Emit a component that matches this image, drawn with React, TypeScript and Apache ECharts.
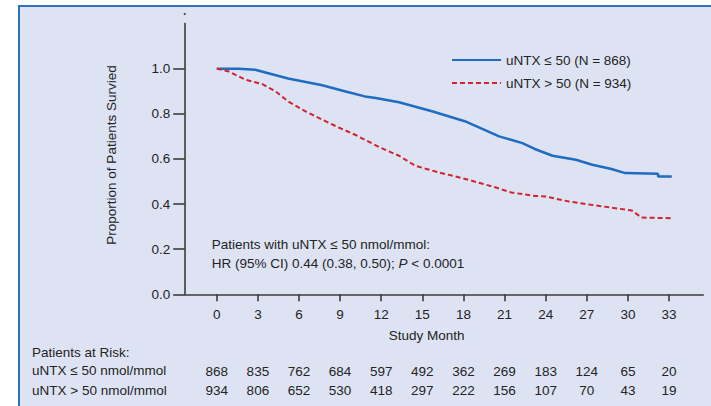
import React, { useEffect, useRef } from "react";
import * as echarts from "echarts";

// Kaplan-Meier estimates (month, proportion surviving)
const lowMonths = [0, 1.6, 2.8, 5.2, 7.7, 9.4, 10.8, 11.6, 13.3, 15.7, 18.1, 20.6, 22.3, 23.2, 24.5, 26.2, 27.4, 28.8, 29.8, 32.2, 32.2, 33.2];
const lowSurvival = [1.0, 1.0, 0.995, 0.956, 0.926, 0.899, 0.877, 0.87, 0.851, 0.811, 0.767, 0.7, 0.67, 0.644, 0.614, 0.596, 0.574, 0.555, 0.537, 0.534, 0.522, 0.522];

const highMonths = [0, 0.85, 2.1, 3.3, 4.3, 5.2, 6.5, 7.7, 8.9, 10.1, 10.8, 12.0, 13.3, 14.5, 16.2, 17.9, 20.1, 21.5, 23.2, 24.0, 25.7, 27.4, 28.8, 30.3, 31.0, 33.2];
const highSurvival = [1.0, 0.988, 0.951, 0.932, 0.899, 0.855, 0.81, 0.774, 0.739, 0.707, 0.685, 0.648, 0.614, 0.569, 0.54, 0.515, 0.478, 0.451, 0.436, 0.433, 0.411, 0.396, 0.384, 0.371, 0.34, 0.337];

// Axis ticks
const monthTicks = [0, 3, 6, 9, 12, 15, 18, 21, 24, 27, 30, 33];
const survivalTicks = [0, 0.2, 0.4, 0.6, 0.8, 1.0];

// Patients at risk at each month tick
const lowAtRisk = [868, 835, 762, 684, 597, 492, 362, 269, 183, 124, 65, 20];
const highAtRisk = [934, 806, 652, 530, 418, 297, 222, 156, 107, 70, 43, 19];

const lowName = "uNTX \u2264 50 (N = 868)";
const highName = "uNTX > 50 (N = 934)";

const FONT = "'Liberation Sans', Arial, sans-serif";
const FS = 13.5;
const TEXT = "#242424";
const AXIS = "#3c3c3c";
const BLUE = "#1f6cc2";
const RED = "#d4222f";

export default function App() {
  const ref = useRef<HTMLDivElement>(null);

  useEffect(() => {
    if (!ref.current) return;
    const chart = echarts.init(ref.current, undefined, { renderer: "svg" });

    const riskAxis = (values: number[], offset: number) => ({
      type: "value",
      gridIndex: 0,
      position: "bottom",
      offset,
      min: -2.34,
      max: 35.5,
      axisLine: { show: false, onZero: false },
      axisTick: { show: false },
      splitLine: { show: false },
      axisLabel: {
        customValues: monthTicks,
        margin: 13,
        color: TEXT,
        fontFamily: FONT,
        fontSize: FS,
        formatter: (v: number) => String(values[monthTicks.indexOf(Math.round(v))] ?? ""),
      },
    });

    chart.setOption({
      animation: false,
      backgroundColor: "transparent",
      textStyle: { fontFamily: FONT },
      grid: { left: 184.7, right: 7.7, top: 23.5, bottom: 111.7, containLabel: false },
      legend: {
        orient: "vertical",
        left: 446,
        top: 48,
        itemWidth: 49,
        itemHeight: 14,
        itemGap: 9,
        itemStyle: { opacity: 0 },
        textStyle: { color: TEXT, fontFamily: FONT, fontSize: FS },
        data: [lowName, highName],
      },
      xAxis: [
        {
          type: "value",
          min: -2.34,
          max: 35.5,
          axisLine: { show: true, onZero: false, lineStyle: { color: AXIS, width: 1.6 } },
          axisTick: { show: true, customValues: monthTicks, length: 7, lineStyle: { color: AXIS, width: 1.6 } },
          splitLine: { show: false },
          axisLabel: { customValues: monthTicks, margin: 13, color: TEXT, fontFamily: FONT, fontSize: FS },
        },
        riskAxis(lowAtRisk, 57),
        riskAxis(highAtRisk, 76),
      ],
      yAxis: {
        type: "value",
        min: 0,
        max: 1.2,
        axisLine: { show: true, onZero: false, lineStyle: { color: AXIS, width: 1.6 } },
        axisTick: { show: true, customValues: survivalTicks, length: 11.5, lineStyle: { color: AXIS, width: 1.6 } },
        splitLine: { show: false },
        axisLabel: {
          customValues: survivalTicks,
          margin: 14.5,
          color: TEXT,
          fontFamily: FONT,
          fontSize: FS,
          formatter: (v: number) => v.toFixed(1),
        },
      },
      series: [
        {
          name: lowName,
          type: "line",
          symbol: "none",
          showSymbol: false,
          data: lowMonths.map((m, i) => [m, lowSurvival[i]]),
          lineStyle: { color: BLUE, width: 2.5 },
          itemStyle: { color: BLUE },
        },
        {
          name: highName,
          type: "line",
          symbol: "none",
          showSymbol: false,
          data: highMonths.map((m, i) => [m, highSurvival[i]]),
          lineStyle: { color: RED, width: 2, type: [5, 3] },
          itemStyle: { color: RED },
        },
      ],
      graphic: [
        { type: "circle", shape: { cx: 184.7, cy: 14, r: 1 }, style: { fill: AXIS } },
        {
          type: "text",
          x: 111,
          y: 155,
          rotation: Math.PI / 2,
          style: {
            text: "Proportion of Patients Survied",
            fill: TEXT,
            font: `${FS}px ${FONT}`,
            align: "center",
            verticalAlign: "middle",
          },
        },
        {
          type: "text",
          x: 426.7,
          y: 335,
          style: { text: "Study Month", fill: TEXT, font: `${FS}px ${FONT}`, align: "center", verticalAlign: "middle" },
        },
        {
          type: "text",
          x: 211.7,
          y: 244.3,
          style: {
            text: "Patients with uNTX \u2264 50 nmol/mmol:",
            fill: TEXT,
            font: `${FS}px ${FONT}`,
            align: "left",
            verticalAlign: "middle",
          },
        },
        {
          type: "text",
          x: 211.7,
          y: 263.3,
          style: {
            text: "HR (95% CI) 0.44 (0.38, 0.50); {i|P} < 0.0001",
            fill: TEXT,
            font: `${FS}px ${FONT}`,
            align: "left",
            verticalAlign: "middle",
            rich: { i: { fontStyle: "italic", fontFamily: FONT, fontSize: FS, fill: TEXT } },
          },
        },
        {
          type: "text",
          x: 32,
          y: 352.7,
          style: { text: "Patients at Risk:", fill: TEXT, font: `${FS}px ${FONT}`, align: "left", verticalAlign: "middle" },
        },
        {
          type: "text",
          x: 32,
          y: 370.7,
          style: { text: "uNTX \u2264 50 nmol/mmol", fill: TEXT, font: `${FS}px ${FONT}`, align: "left", verticalAlign: "middle" },
        },
        {
          type: "text",
          x: 32,
          y: 390,
          style: { text: "uNTX > 50 nmol/mmol", fill: TEXT, font: `${FS}px ${FONT}`, align: "left", verticalAlign: "middle" },
        },
      ],
    });

    return () => chart.dispose();
  }, []);

  return (
    <div style={{ position: "fixed", left: 0, top: 0, width: 711, height: 406, background: "#ffffff", overflow: "hidden" }}>
      <div
        style={{
          position: "absolute",
          left: 18,
          top: 5,
          width: 700,
          height: 410,
          background: "#dde3f2",
          borderLeft: "2px solid #2e72c0",
          borderTop: "2px solid #2e72c0",
        }}
      />
      <div ref={ref} style={{ position: "absolute", left: 0, top: 0, width: 711, height: 406 }} />
    </div>
  );
}
